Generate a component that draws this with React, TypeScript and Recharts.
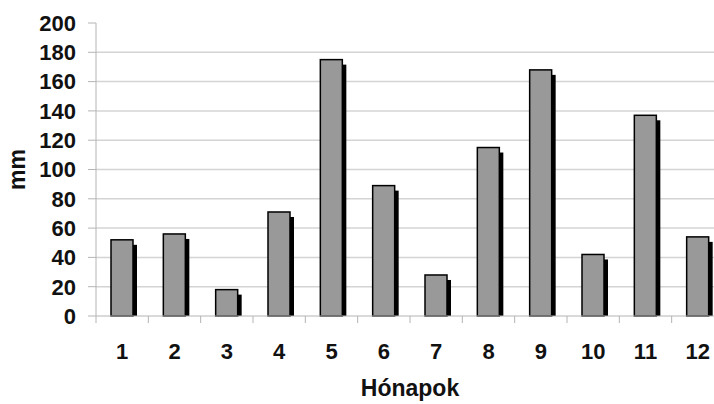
import { BarChart, Bar, XAxis, YAxis, CartesianGrid } from "recharts";

const months = ["1", "2", "3", "4", "5", "6", "7", "8", "9", "10", "11", "12"];
const rainfall = [52, 56, 18, 71, 175, 89, 28, 115, 168, 42, 137, 54];
const yTicks = [0, 20, 40, 60, 80, 100, 120, 140, 160, 180, 200];
const gridValues = [20, 40, 60, 80, 100, 120, 140, 160, 180];

const data = months.map((m, i) => ({ month: m, mm: rainfall[i] }));

const CHART_W = 740;
const CHART_H = 404;
const MARGIN = { top: 23, right: 16, bottom: 0, left: 0 };
const Y_AXIS_W = 96;
const X_AXIS_H = 88;
const AXIS_Y = CHART_H - X_AXIS_H;
const BAND = (CHART_W - MARGIN.left - MARGIN.right - Y_AXIS_W) / months.length;

const FONT = '"Liberation Sans", Arial, sans-serif';
const AXIS_COLOR = "#b4b4b4";
const GRID_COLOR = "#d4d4d4";

// Excel-style bar with a black drop shadow on the right
function ShadowBar(props: any) {
  const { x, y, width, height } = props;
  if (!height || height <= 0) return null;
  return (
    <g>
      <rect x={x + 4} y={y + 5} width={width} height={Math.max(height - 5, 0)} fill="#000" />
      <rect x={x} y={y} width={width} height={height} fill="#999999" stroke="#000" strokeWidth={1.5} />
    </g>
  );
}

// category label plus a tick mark on the left boundary of each category
function MonthTick(props: any) {
  const { x, payload } = props;
  const bx = x - BAND / 2;
  return (
    <g>
      <line x1={bx} y1={AXIS_Y} x2={bx} y2={AXIS_Y + 7} stroke={AXIS_COLOR} strokeWidth={1} />
      <text x={x} y={359} textAnchor="middle" fontFamily={FONT} fontWeight="bold" fontSize={22} fill="#111">
        {payload.value}
      </text>
    </g>
  );
}

export default function App() {
  return (
    <div style={{ position: "absolute", left: 0, top: 0, width: 714, height: 404, overflow: "hidden", background: "#fff" }}>
      <BarChart width={CHART_W} height={CHART_H} data={data} margin={MARGIN}>
        <CartesianGrid vertical={false} stroke={GRID_COLOR} strokeWidth={1.5} horizontalValues={gridValues} />
        <XAxis
          dataKey="month"
          height={X_AXIS_H}
          stroke={AXIS_COLOR}
          tickLine={false}
          tick={<MonthTick />}
          interval={0}
          label={{
            value: "Hónapok",
            position: "insideBottom",
            offset: 8,
            fontFamily: FONT,
            fontWeight: "bold",
            fontSize: 23,
            fill: "#111",
          }}
        />
        <YAxis
          width={Y_AXIS_W}
          domain={[0, 200]}
          ticks={yTicks}
          interval={0}
          stroke={AXIS_COLOR}
          tickSize={8}
          tickMargin={12}
          tick={{ fontFamily: FONT, fontWeight: "bold", fontSize: 22, fill: "#111" }}
          label={{
            content: ({ viewBox }: any) => {
              const cy = viewBox.y + viewBox.height / 2;
              return (
                <text
                  x={17}
                  y={cy}
                  transform={`rotate(-90 17 ${cy})`}
                  textAnchor="middle"
                  dominantBaseline="central"
                  fontFamily={FONT}
                  fontWeight="bold"
                  fontSize={23}
                  fill="#111"
                >
                  mm
                </text>
              );
            },
          }}
        />
        <Bar dataKey="mm" barSize={22} shape={<ShadowBar />} isAnimationActive={false} />
      </BarChart>
    </div>
  );
}
